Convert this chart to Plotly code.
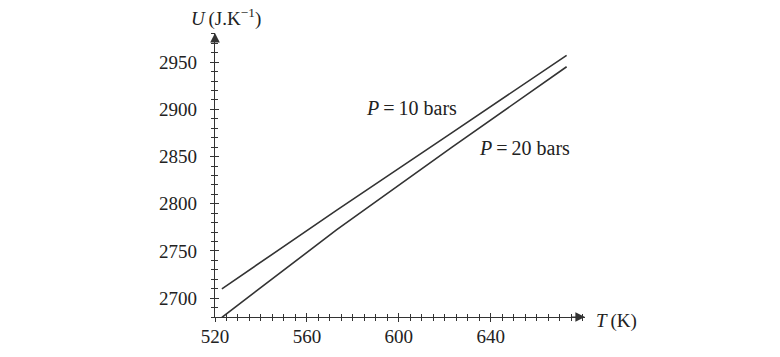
import plotly.graph_objects as go

# Data
T = [523, 573, 623, 673]
U_10bar = [2709.9, 2793.2, 2875.2, 2957.3]
U_20bar = [2679.6, 2772.6, 2859.8, 2945.2]

x_ticks = [520, 560, 600, 640]
y_ticks = [2700, 2750, 2800, 2850, 2900, 2950]

LINE = "#333333"
FONT = "Liberation Serif"

fig = go.Figure()
fig.add_trace(go.Scatter(x=T, y=U_10bar, mode="lines", line=dict(color=LINE, width=1.6),
                         name="P=10 bars", showlegend=False, hoverinfo="skip"))
fig.add_trace(go.Scatter(x=T, y=U_20bar, mode="lines", line=dict(color=LINE, width=1.6),
                         name="P=20 bars", showlegend=False, hoverinfo="skip"))
fig.add_trace(go.Scatter(x=[520], y=[2680], xaxis="x2", yaxis="y2", mode="markers",
                         marker=dict(opacity=0), showlegend=False, hoverinfo="skip"))

xr = [520, 681]
yr = [2680, 2981]
tickfont = dict(family=FONT, size=19, color="#222")

common_x = dict(range=xr, showgrid=False, zeroline=False, showline=True, linecolor=LINE, linewidth=1.2,
                tickcolor=LINE, tickwidth=1, tickmode="array", tickvals=x_ticks, automargin=False,
                minor=dict(dtick=5, tick0=520, ticklen=3, tickcolor=LINE, ticks="outside", showgrid=False))
common_y = dict(range=yr, showgrid=False, zeroline=False, showline=True, linecolor=LINE, linewidth=1.2,
                tickcolor=LINE, tickwidth=1, tickmode="array", tickvals=y_ticks, automargin=False,
                minor=dict(dtick=10, tick0=2700, ticklen=3, tickcolor=LINE, ticks="outside", showgrid=False))

fig.update_layout(
    width=780, height=357,
    margin=dict(l=215, r=195, t=33, b=40, autoexpand=False),
    paper_bgcolor="white", plot_bgcolor="white",
    xaxis=dict(**common_x, ticks="outside", ticklen=4, tickfont=tickfont,
               ticktext=[str(v) for v in x_ticks], ticklabelstandoff=-2),
    yaxis=dict(**common_y, ticks="outside", ticklen=4, tickfont=tickfont,
               ticktext=[str(v) for v in y_ticks], ticklabelstandoff=9),
    xaxis2=dict(range=xr, overlaying="x", matches="x", showgrid=False, zeroline=False, showline=False,
                ticks="inside", ticklen=4, tickcolor=LINE, tickmode="array", tickvals=x_ticks,
                showticklabels=False, automargin=False,
                minor=dict(dtick=5, tick0=520, ticklen=3, tickcolor=LINE, ticks="inside", showgrid=False)),
    yaxis2=dict(range=yr, overlaying="y", matches="y", showgrid=False, zeroline=False, showline=False,
                ticks="inside", ticklen=4, tickcolor=LINE, tickmode="array", tickvals=y_ticks,
                showticklabels=False, automargin=False,
                minor=dict(dtick=10, tick0=2700, ticklen=3, tickcolor=LINE, ticks="inside", showgrid=False)),
)

# Axis arrows
fig.add_annotation(x=xr[1], y=yr[0], ax=-16, ay=0, xref="x", yref="y", showarrow=True,
                   arrowhead=2, arrowsize=1.6, arrowwidth=1.2, arrowcolor=LINE, text=" ")
fig.add_annotation(x=xr[0], y=yr[1], ax=0, ay=16, xref="x", yref="y", showarrow=True,
                   arrowhead=2, arrowsize=1.6, arrowwidth=1.2, arrowcolor=LINE, text=" ")

# Axis titles
fig.add_annotation(x=xr[0], y=yr[1], xref="x", yref="y", xshift=-26, yshift=16, showarrow=False,
                   xanchor="left", yanchor="middle",
                   text="<i>U</i>\u2009(J.K<sup>\u22121</sup>)",
                   font=dict(family=FONT, size=19, color="#222"))
fig.add_annotation(x=xr[1], y=yr[0], xref="x", yref="y", xshift=9, yshift=-4, showarrow=False,
                   xanchor="left", yanchor="middle",
                   text="<i>T</i>\u2009(K)",
                   font=dict(family=FONT, size=19, color="#222"))

# Curve labels
fig.add_annotation(x=605.4, y=2902, xref="x", yref="y", showarrow=False,
                   text="<i>P</i>\u2009=\u200910 bars", font=dict(family=FONT, size=20, color="#222"))
fig.add_annotation(x=654.6, y=2859, xref="x", yref="y", showarrow=False,
                   text="<i>P</i>\u2009=\u200920 bars", font=dict(family=FONT, size=20, color="#222"))

fig.write_html("out.html", config={"displayModeBar": False},
               post_script="document.body.style.margin='0';")
